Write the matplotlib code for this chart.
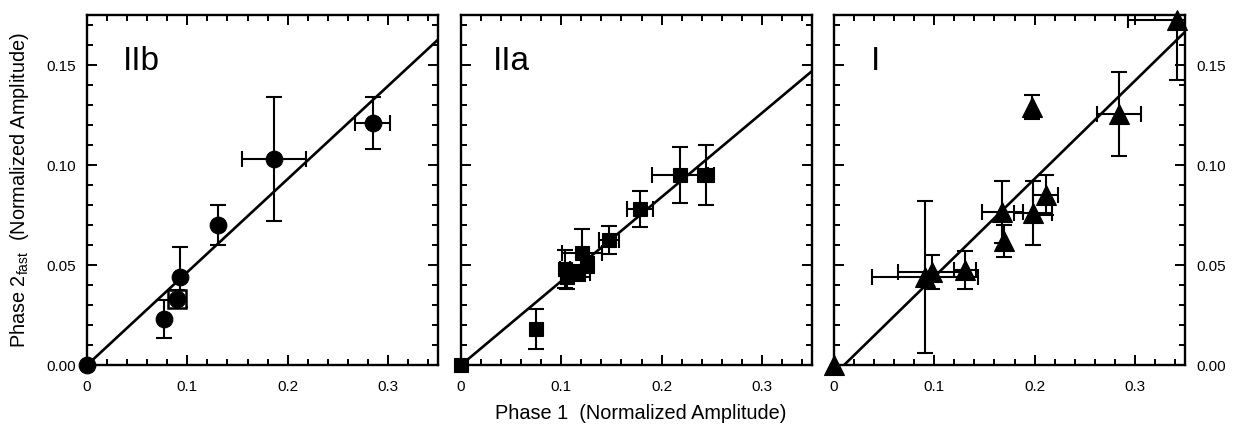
import matplotlib
matplotlib.use("Agg")
import matplotlib.pyplot as plt
from matplotlib.ticker import MultipleLocator, FixedFormatter, FixedLocator

plt.rcParams['font.family'] = ['Liberation Sans', 'DejaVu Sans']
plt.rcParams['mathtext.default'] = 'regular'

# IIb (circles); the third point is also boxed
iib_x = [0, 0.077, 0.0897, 0.093, 0.131, 0.186, 0.285]
iib_y = [0, 0.023, 0.033, 0.044, 0.070, 0.103, 0.121]
iib_xerr = [0, 0, 0, 0, 0, 0.032, 0.0175]
iib_yerr = [0, 0.0095, 0.0045, 0.015, 0.010, 0.031, 0.013]
iib_boxed = [2]
iib_slope, iib_icpt = 0.465, 0.0

# IIa (squares)
iia_x = [0, 0.075, 0.104, 0.106, 0.117, 0.121, 0.126, 0.148, 0.178, 0.218, 0.244]
iia_y = [0, 0.018, 0.048, 0.044, 0.046, 0.056, 0.050, 0.0625, 0.078, 0.095, 0.095]
iia_xerr = [0, 0, 0.005, 0.006, 0.012, 0.020, 0.004, 0.010, 0.013, 0.028, 0.008]
iia_yerr = [0, 0.010, 0.0095, 0.006, 0.004, 0.012, 0.004, 0.007, 0.009, 0.014, 0.015]
iia_slope, iia_icpt = 0.42, 0.0

# I (triangles)
i_x = [0, 0.091, 0.098, 0.131, 0.168, 0.169, 0.1977, 0.198, 0.211, 0.284, 0.342]
i_y = [0, 0.044, 0.0467, 0.0475, 0.0767, 0.062, 0.1288, 0.0758, 0.085, 0.1254, 0.1725]
i_xerr = [0, 0.053, 0.034, 0.011, 0.020, 0, 0, 0.019, 0.0125, 0.022, 0.049]
i_yerr = [0, 0.038, 0.0085, 0.0097, 0.0155, 0.008, 0.006, 0.016, 0.010, 0.021, 0.030]
i_slope, i_icpt = 0.49, -0.0049

x_ticks = [0, 0.1, 0.2, 0.3]
x_ticklabels = ["0", "0.1", "0.2", "0.3"]
y_ticks = [0, 0.05, 0.10, 0.15]
y_ticklabels = ["0.00", "0.05", "0.10", "0.15"]

fig = plt.figure(figsize=(12.33, 4.29), dpi=100)

lefts = [0.0706, 0.3739, 0.6764]
panels = [
    ("IIb", iib_x, iib_y, iib_xerr, iib_yerr, "o", 12, iib_slope, iib_icpt, 0.103),
    ("IIa", iia_x, iia_y, iia_xerr, iia_yerr, "s", 10, iia_slope, iia_icpt, 0.09),
    ("I", i_x, i_y, i_xerr, i_yerr, "^", 14, i_slope, i_icpt, 0.105),
]

for k, (name, xs, ys, xe, ye, mk, ms, slope, icpt, tx) in enumerate(panels):
    ax = fig.add_axes([lefts[k], 0.149, 0.2847, 0.816])
    ax.set_xlim(0, 0.35)
    ax.set_ylim(0, 0.175)

    # fitted line
    x0 = max(0, -icpt / slope)
    ax.plot([x0, 0.35], [slope * x0 + icpt, slope * 0.35 + icpt], color="k", lw=1.9, zorder=2)

    # error bars
    ax.errorbar(xs[1:], ys[1:], xerr=xe[1:], yerr=ye[1:], fmt="none", ecolor="k",
                elinewidth=1.5, capsize=5.5, capthick=1.5, zorder=3)

    if k == 0:
        bx = [xs[j] for j in iib_boxed]
        by = [ys[j] for j in iib_boxed]
        ax.plot(bx, by, "s", ms=12.5, mfc="white", mec="k", mew=1.8, zorder=4, clip_on=False)

    ax.plot(xs, ys, mk, ms=ms, color="k", mew=0.8, zorder=5, clip_on=False)

    ax.text(tx, 0.843, name, transform=ax.transAxes, fontsize=24, ha="left", va="baseline")

    # axis box and ticks
    for s in ax.spines.values():
        s.set_linewidth(1.7)
    ax.xaxis.set_major_locator(FixedLocator(x_ticks))
    ax.xaxis.set_major_formatter(FixedFormatter(x_ticklabels))
    ax.xaxis.set_minor_locator(MultipleLocator(0.02))
    ax.yaxis.set_major_locator(FixedLocator(y_ticks))
    ax.yaxis.set_major_formatter(FixedFormatter(y_ticklabels))
    ax.yaxis.set_minor_locator(MultipleLocator(0.01))
    ax.tick_params(which="both", direction="in", top=True, right=True, width=1.4, labelsize=11)
    ax.tick_params(which="major", length=7)
    ax.tick_params(which="minor", length=4)
    ax.tick_params(axis="x", pad=11)
    ax.tick_params(axis="y", pad=8)
    if k == 0:
        ax.tick_params(axis="y", labelleft=True, labelright=False)
    elif k == 1:
        ax.tick_params(axis="y", labelleft=False, labelright=False)
    else:
        ax.tick_params(axis="y", labelleft=False, labelright=True)

fig.text(0.52, 0.037, "Phase 1  (Normalized Amplitude)", ha="center", va="center", fontsize=14.3)
fig.text(0.016, 0.557, "Phase 2$_{fast}$  (Normalized Amplitude)", ha="center", va="center",
         rotation=90, fontsize=14.3)

fig.savefig("out.png", dpi=100)
